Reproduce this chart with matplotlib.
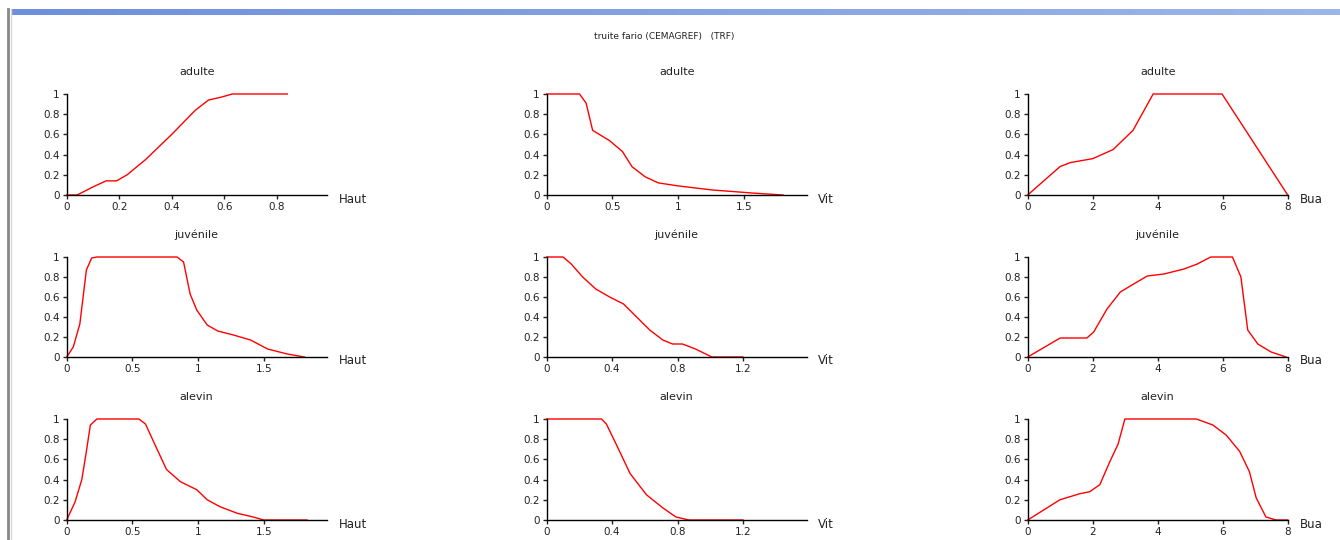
import matplotlib.pyplot as plt
import numpy as np

# courbes d'habitat : truite fario, hauteur / vitesse / granulo (Bua)
haut_adulte_x = [0, 0.04, 0.10, 0.15, 0.19, 0.23, 0.30, 0.40, 0.49, 0.54, 0.59, 0.63, 0.84]
haut_adulte_y = [0, 0, 0.08, 0.14, 0.14, 0.20, 0.35, 0.60, 0.84, 0.94, 0.97, 1.0, 1.0]
haut_juv_x = [0, 0.05, 0.10, 0.15, 0.19, 0.23, 0.84, 0.89, 0.94, 0.99, 1.07, 1.15, 1.27, 1.40, 1.53, 1.68, 1.81]
haut_juv_y = [0, 0.10, 0.33, 0.87, 0.99, 1.0, 1.0, 0.95, 0.63, 0.47, 0.32, 0.26, 0.22, 0.17, 0.08, 0.03, 0.0]
haut_alevin_x = [0, 0.064, 0.115, 0.15, 0.18, 0.23, 0.55, 0.60, 0.66, 0.76, 0.865, 0.99, 1.07, 1.17, 1.30, 1.42, 1.50, 1.83]
haut_alevin_y = [0, 0.18, 0.40, 0.68, 0.94, 1.0, 1.0, 0.95, 0.78, 0.50, 0.38, 0.30, 0.20, 0.13, 0.066, 0.03, 0.0, 0.0]

vit_adulte_x = [0, 0.25, 0.30, 0.35, 0.477, 0.577, 0.65, 0.75, 0.85, 1.0, 1.26, 1.56, 1.80]
vit_adulte_y = [1.0, 1.0, 0.91, 0.64, 0.54, 0.43, 0.28, 0.18, 0.12, 0.09, 0.05, 0.02, 0.0]
vit_juv_x = [0, 0.10, 0.15, 0.22, 0.30, 0.385, 0.47, 0.55, 0.63, 0.71, 0.77, 0.83, 0.91, 1.01, 1.2]
vit_juv_y = [1.0, 1.0, 0.93, 0.80, 0.68, 0.60, 0.53, 0.40, 0.27, 0.17, 0.13, 0.13, 0.08, 0.0, 0.0]
vit_alevin_x = [0, 0.335, 0.365, 0.425, 0.51, 0.61, 0.71, 0.79, 0.87, 1.2]
vit_alevin_y = [1.0, 1.0, 0.95, 0.75, 0.46, 0.25, 0.12, 0.03, 0.0, 0.0]

bua_adulte_x = [0, 0.99, 1.3, 2.0, 2.63, 3.24, 3.86, 5.98, 8.0]
bua_adulte_y = [0, 0.28, 0.32, 0.36, 0.45, 0.64, 1.0, 1.0, 0.0]
bua_juv_x = [0, 1.0, 1.82, 2.03, 2.44, 2.85, 3.26, 3.68, 4.19, 4.81, 5.22, 5.63, 6.30, 6.56, 6.77, 7.08, 7.49, 7.95]
bua_juv_y = [0, 0.19, 0.19, 0.25, 0.48, 0.65, 0.73, 0.81, 0.83, 0.88, 0.93, 1.0, 1.0, 0.80, 0.27, 0.13, 0.05, 0.0]
bua_alevin_x = [0, 0.99, 1.6, 1.91, 2.22, 2.53, 2.78, 2.99, 5.19, 5.70, 6.11, 6.52, 6.82, 7.03, 7.33, 7.64, 8.0]
bua_alevin_y = [0, 0.20, 0.26, 0.28, 0.35, 0.58, 0.75, 1.0, 1.0, 0.94, 0.84, 0.68, 0.48, 0.22, 0.03, 0.0, 0.0]

stades = ['adulte', 'juvénile', 'alevin']
variables = ['Haut', 'Vit', 'Bua']
courbes = [
    [(haut_adulte_x, haut_adulte_y), (vit_adulte_x, vit_adulte_y), (bua_adulte_x, bua_adulte_y)],
    [(haut_juv_x, haut_juv_y), (vit_juv_x, vit_juv_y), (bua_juv_x, bua_juv_y)],
    [(haut_alevin_x, haut_alevin_y), (vit_alevin_x, vit_alevin_y), (bua_alevin_x, bua_alevin_y)],
]
xmax = [[0.99, 1.98, 8.0], [1.98, 1.59, 8.0], [1.98, 1.59, 8.0]]
xticks = [
    [[0, 0.2, 0.4, 0.6, 0.8], [0, 0.5, 1, 1.5], [0, 2, 4, 6, 8]],
    [[0, 0.5, 1, 1.5], [0, 0.4, 0.8, 1.2], [0, 2, 4, 6, 8]],
    [[0, 0.5, 1, 1.5], [0, 0.4, 0.8, 1.2], [0, 2, 4, 6, 8]],
]
yticks = [0, 0.2, 0.4, 0.6, 0.8, 1]

W, H = 1340, 540
fig = plt.figure(figsize=(W / 100, H / 100), dpi=100)
fig.patch.set_facecolor('white')

# barre de fenetre bleue + bord gauche
bar = fig.add_axes([12 / W, 1 - 15 / H, 1 - 12 / W, 6 / H])
bar.imshow(np.linspace(0, 1, 256).reshape(1, -1), aspect='auto', cmap=plt.matplotlib.colors.LinearSegmentedColormap.from_list('b', ['#6e8fdc', '#9cb6ea']))
bar.axis('off')
fig.add_artist(plt.Line2D([8 / W, 8 / W], [0, 1 - 9 / H], color='#888888', lw=2))
fig.add_artist(plt.Line2D([10.5 / W, 10.5 / W], [0, 1 - 9 / H], color='#d8d8d0', lw=1))

fig.text(664 / W, 1 - 37 / H, 'truite fario (CEMAGREF)   (TRF)', ha='center', va='center', fontsize=6.5, color='#222222')

lefts = [66.7, 546.7, 1027.7]
bottoms = [195, 357, 520]
tops = [94, 257, 419]
for r in range(3):
    for c in range(3):
        ax = fig.add_axes([lefts[c] / W, 1 - bottoms[r] / H, 260 / W, (bottoms[r] - tops[r]) / H])
        x, y = courbes[r][c]
        ax.plot(x, y, color='red', lw=1, clip_on=False)
        ax.set_xlim(0, xmax[r][c])
        ax.set_ylim(0, 1)
        ax.set_xticks(xticks[r][c])
        ax.set_xticklabels([('%g' % t) for t in xticks[r][c]])
        ax.set_yticks(yticks)
        ax.set_yticklabels([('%g' % t) for t in yticks])
        ax.tick_params(labelsize=7.5, length=3, width=1, pad=2, colors='#222222')
        for s in ['top', 'right']:
            ax.spines[s].set_visible(False)
        for s in ['left', 'bottom']:
            ax.spines[s].set_linewidth(1)
        ax.set_title(stades[r], fontsize=8, pad=14, color='#222222')
        ax.text(1.045, -0.04, variables[c], transform=ax.transAxes, fontsize=8.5, va='center', ha='left', color='#222222')
        ax.patch.set_alpha(0)

fig.savefig('out.png', dpi=100)
